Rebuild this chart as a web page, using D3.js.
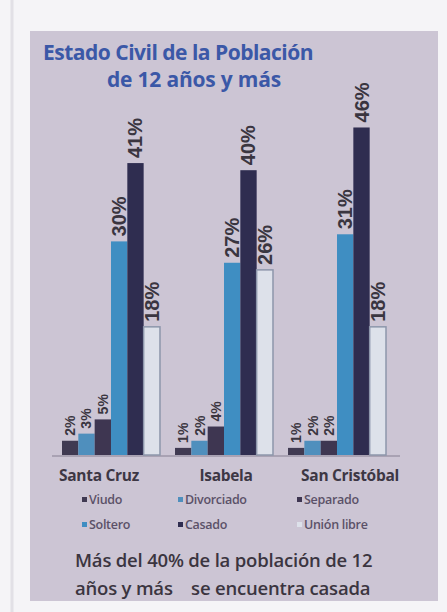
<!DOCTYPE html>
<html><head><meta charset="utf-8">
<script src="https://cdn.jsdelivr.net/npm/d3@7"></script>
<style>
html,body{margin:0;padding:0;background:#f5f4f7;}
svg{display:block;}
</style></head>
<body>
<script>
const categories = ["Santa Cruz", "Isabela", "San Cristóbal"];
const seriesNames = ["Viudo", "Divorciado", "Separado", "Soltero", "Casado", "Unión libre"];
const viudo = [2, 1, 1];
const divorciado = [3, 2, 2];
const separado = [5, 4, 2];
const soltero = [30, 27, 31];
const casado = [41, 40, 46];
const unionLibre = [18, 26, 18];
const seriesColors = ["#403a52", "#4f8fbd", "#3e3651", "#3f8ec2", "#2f2d50", "#dde1ea"];
const titleLines = ["Estado Civil de la Población", "de 12 años y más"];
const noteLines = ["Más del 40% de la población de 12", "años y más    se encuentra casada"];

const seriesValues = [viudo, divorciado, separado, soltero, casado, unionLibre];
const catLabelShift = [-12, 2, 13];

const W = 447, H = 612;
const svg = d3.select("body").append("svg").attr("width", W).attr("height", H);

// page edge
svg.append("line").attr("x1", 12).attr("x2", 12).attr("y1", 0).attr("y2", H)
  .attr("stroke", "#e2e0e6").attr("stroke-width", 3);

// panel
svg.append("rect").attr("x", 30).attr("y", 31).attr("width", 408).attr("height", 570)
  .attr("fill", "#ccc5d4");

// title
const tf = "'Open Sans'";
svg.append("text").attr("x", 43).attr("y", 60)
  .attr("font-family", tf).attr("font-weight", "bold").attr("font-size", 21)
  .attr("letter-spacing", -0.5)
  .attr("fill", "#3b58a7").text(titleLines[0]);
svg.append("text").attr("x", 194).attr("y", 87).attr("text-anchor", "middle")
  .attr("font-family", tf).attr("font-weight", "bold").attr("font-size", 21)
  .attr("letter-spacing", -0.2)
  .attr("fill", "#3b58a7").text(titleLines[1]);

const x0 = d3.scaleBand().domain(categories).range([62, 386]).paddingInner(0.133).paddingOuter(0);
const x1 = d3.scaleBand().domain(seriesNames).range([0, x0.bandwidth()]).padding(0);
const y = d3.scaleLinear().domain([0, 50]).range([455, 99]);

// floor line
svg.append("line").attr("x1", 52).attr("x2", 400).attr("y1", y(0) + 1).attr("y2", y(0) + 1)
  .attr("stroke", "#a9a2b3").attr("stroke-width", 2);

const data = [];
categories.forEach((c, i) => {
  seriesNames.forEach((s, j) => {
    data.push({cat: c, ser: s, j, v: seriesValues[j][i]});
  });
});

const g = svg.append("g");
g.selectAll("rect.bar").data(data).join("rect").attr("class", "bar")
  .attr("x", d => x0(d.cat) + x1(d.ser))
  .attr("y", d => y(d.v))
  .attr("width", x1.bandwidth())
  .attr("height", d => y(0) - y(d.v))
  .attr("fill", d => seriesColors[d.j])
  .attr("stroke", d => d.j === 5 ? "#8d96ab" : "none")
  .attr("stroke-width", 1.5);

g.selectAll("text.lbl").data(data).join("text").attr("class", "lbl")
  .attr("transform", d => {
    const cx = x0(d.cat) + x1(d.ser) + x1.bandwidth() / 2;
    return `translate(${cx + (d.v < 10 ? 5 : 7)},${y(d.v) - 5}) rotate(-90)`;
  })
  .attr("font-family", "Liberation Sans").attr("font-weight", "bold")
  .attr("font-size", d => d.v < 10 ? 14 : 20)
  .attr("fill", "#3a3540")
  .text(d => d.v + "%");

// category labels
svg.append("g").selectAll("text").data(categories).join("text")
  .attr("x", (d, i) => x0(d) + x0.bandwidth() / 2 + catLabelShift[i])
  .attr("y", 481).attr("text-anchor", "middle")
  .attr("font-family", tf).attr("font-weight", "bold").attr("font-size", 15.5)
  .attr("letter-spacing", -0.3)
  .attr("fill", "#3d3744").text(d => d);

// legend
const legX = [82, 178, 297];
const legY = [504, 529];
const leg = svg.append("g");
seriesNames.forEach((s, j) => {
  const col = j % 3, row = Math.floor(j / 3);
  const lx = legX[col], ly = legY[row];
  leg.append("rect").attr("x", lx).attr("y", ly - 7).attr("width", 5).attr("height", 5)
    .attr("fill", seriesColors[j]);
  leg.append("text").attr("x", lx + 7).attr("y", ly)
    .attr("font-family", tf).attr("font-weight", 600).attr("font-size", 12.5)
    .attr("letter-spacing", -0.3)
    .attr("fill", "#5b5168").text(s);
});

// note
noteLines.forEach((t, i) => {
  svg.append("text").attr("x", 75).attr("y", 567 + i * 28)
    .attr("font-family", tf).attr("font-weight", 600).attr("font-size", 18.5)
    .attr("letter-spacing", -0.2)
    .attr("fill", "#3b3540").attr("style", "white-space:pre").text(t);
});
</script>
</body></html>
